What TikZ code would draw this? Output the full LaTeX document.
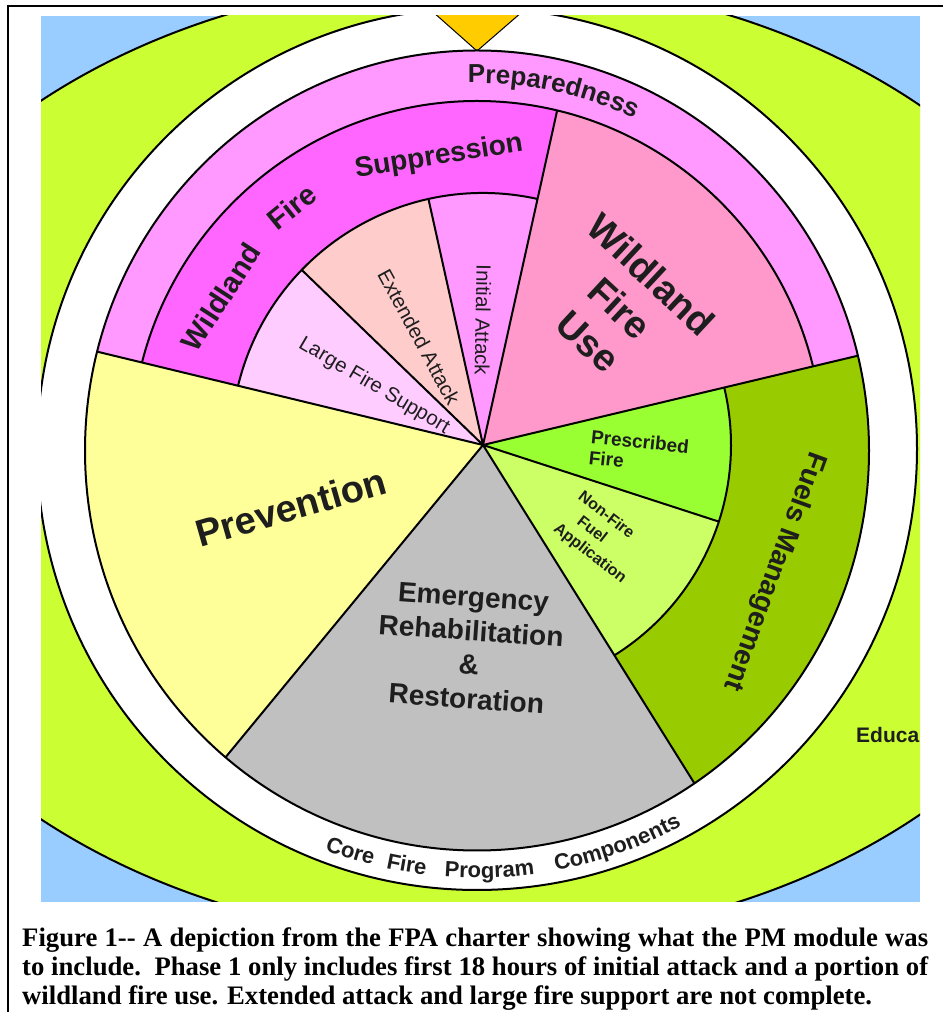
\documentclass[tikz,border=0pt]{standalone}
\usepackage{fontspec}
\setmainfont{Liberation Sans}
\newfontfamily\capfont{Liberation Serif}
\usetikzlibrary{calc,decorations.text}
\definecolor{cblue}{HTML}{99CCFF}
\definecolor{cgreen}{HTML}{CCFF33}
\definecolor{cprep}{HTML}{FF99FF}
\definecolor{csupp}{HTML}{FF66FF}
\definecolor{clfs}{HTML}{FFCCFF}
\definecolor{cea}{HTML}{FFCCCC}
\definecolor{cia}{HTML}{FF99FF}
\definecolor{cwfu}{HTML}{FF99CC}
\definecolor{crx}{HTML}{99FF33}
\definecolor{cnf}{HTML}{CCFF66}
\definecolor{cfuel}{HTML}{99CC00}
\definecolor{cgray}{HTML}{C0C0C0}
\definecolor{cprev}{HTML}{FFFF99}
\definecolor{ctri}{HTML}{FFCC00}
\definecolor{ctext}{HTML}{1E1E1E}
\newcommand\fsz[2]{\fontsize{#1}{#2}\selectfont}
\begin{document}
\begin{tikzpicture}[x=1pt,y=1pt,
  outline/.style={draw=black,line width=2pt},
  lbl/.style={text=ctext,inner sep=0pt,font=#1},
  caplbl/.style={text=black,inner sep=0pt,anchor=base west,font=\capfont\bfseries\fsz{26.7}{28.5}},
  arctext/.style={decorate,decoration={text along path,text align=center,text={#1}}}
]
\useasboundingbox (0,0) rectangle (943,1012);
\fill[white] (0,0) rectangle (943,1012);
\draw[line width=2pt] (943,1006) -- (8,1006) -- (8,0);
\coordinate (C) at (483,567);
\coordinate (E) at (477,562);
\coordinate (D) at (477,561.5);
\begin{scope}
\clip (41,110) rectangle (920,996);
\fill[cblue] (41,110) rectangle (920,996);
\filldraw[fill=cgreen,outline] (477,552) ellipse [x radius=654,y radius=482];
\filldraw[fill=white,outline] (477,563) ellipse [x radius=440,y radius=441];
\filldraw[fill=ctri,draw=black,line width=1pt] (433,1000) -- (522,1000) -- (477,961) -- cycle;
% main sectors
\begin{scope}
\clip (D) ellipse [x radius=392,y radius=400];
\fill[cprep] (C) -- ($(C)+(13.4:900)$) arc[start angle=13.4,end angle=166.4,radius=900] -- cycle;
\fill[cfuel] (C) -- ($(C)+(-58:900)$) arc[start angle=-58,end angle=13.4,radius=900] -- cycle;
\fill[cgray] (C) -- ($(C)+(-129.5:900)$) arc[start angle=-129.5,end angle=-58,radius=900] -- cycle;
\fill[cprev] (C) -- ($(C)+(166.4:900)$) arc[start angle=166.4,end angle=230.5,radius=900] -- cycle;
\end{scope}
\begin{scope}
\clip (E) ellipse [x radius=346,y radius=349];
\fill[csupp] (C) -- ($(C)+(77.5:900)$) arc[start angle=77.5,end angle=166.4,radius=900] -- cycle;
\fill[cwfu] (C) -- ($(C)+(13.4:900)$) arc[start angle=13.4,end angle=77.5,radius=900] -- cycle;
\end{scope}
\fill[clfs] (C) -- ($(C)+(136:252)$) arc[start angle=136,end angle=166.4,radius=252] -- cycle;
\fill[cea] (C) -- ($(C)+(102.5:252)$) arc[start angle=102.5,end angle=136,radius=252] -- cycle;
\fill[cia] (C) -- ($(C)+(77.5:252)$) arc[start angle=77.5,end angle=102.5,radius=252] -- cycle;
\fill[crx] (C) -- ($(C)+(-18:248)$) arc[start angle=-18,end angle=13.4,radius=248] -- cycle;
\fill[cnf] (C) -- ($(C)+(-58:248)$) arc[start angle=-58,end angle=-18,radius=248] -- cycle;
% outlines
\draw[outline] ($(C)+(77.5:252)$) arc[start angle=77.5,end angle=166.4,radius=252];
\draw[outline] ($(C)+(-58:248)$) arc[start angle=-58,end angle=13.4,radius=248];
\draw[outline] (C) -- ($(C)+(136:252)$);
\draw[outline] (C) -- ($(C)+(102.5:252)$);
\draw[outline] (C) -- ($(C)+(-18:248)$);
\begin{scope}
\clip (E) ellipse [x radius=346,y radius=349];
\draw[outline] (C) -- ($(C)+(77.5:400)$);
\end{scope}
\begin{scope}
\clip (C) -- ($(C)+(13.4:900)$) arc[start angle=13.4,end angle=166.4,radius=900] -- cycle;
\draw[outline] (E) ellipse [x radius=346,y radius=349];
\end{scope}
\begin{scope}
\clip (D) ellipse [x radius=392,y radius=400];
\draw[outline] (C) -- ($(C)+(166.4:500)$);
\draw[outline] (C) -- ($(C)+(13.4:500)$);
\draw[outline] (C) -- ($(C)+(-58:500)$);
\draw[outline] (C) -- ($(C)+(-129.5:500)$);
\end{scope}
\draw[outline] (D) ellipse [x radius=392,y radius=400];
% curved texts
\path[arctext={|\bfseries\fsz{26}{26}\color{ctext}|Preparedness}]
  ($(E)+(100:367)$) arc[start angle=100,end angle=56,radius=367];
\path[arctext={|\bfseries\fsz{22}{22}\color{ctext}|Core}]
  ($(E)+(-122.5:428)$) arc[start angle=-122.5,end angle=-92.5,radius=428];
\path[arctext={|\bfseries\fsz{22}{22}\color{ctext}|Fire}]
  ($(E)+(-114.6:428)$) arc[start angle=-114.6,end angle=-84.6,radius=428];
\path[arctext={|\bfseries\fsz{22}{22}\color{ctext}|Program}]
  ($(E)+(-103.3:428)$) arc[start angle=-103.3,end angle=-73.3,radius=428];
\path[arctext={|\bfseries\fsz{22}{22}\color{ctext}|Components}]
  ($(E)+(-85.4:428)$) arc[start angle=-85.4,end angle=-55.4,radius=428];
% labels
\node[lbl={\bfseries\fsz{29}{29}},rotate=57] (wl) at (221,715) {Wildland};
\node[lbl={\bfseries\fsz{29}{29}},rotate=39] (wf) at (292,805) {Fire};
\node[lbl={\bfseries\fsz{28}{28}},rotate=9] (ws) at (439,855) {Suppression};
\node[lbl={\fsz{20.5}{20.5}},rotate=-30.5] (lfs) at (374,626) {Large Fire Support};
\node[lbl={\fsz{20.5}{20.5}},rotate=-61.5] (ea) at (419,675) {Extended Attack};
\node[lbl={\fsz{20.5}{20.5}},rotate=-91] (ia) at (483,692) {Initial Attack};
\node[lbl={\bfseries\fsz{38}{46}},rotate=-43,align=center] (wfu) at (620,704) {Wildland\\Fire\\Use};
\node[lbl={\bfseries\fsz{19}{21}},rotate=-6,align=left] (rx) at (639,560) {Prescribed\\Fire};
\node[lbl={\bfseries\fsz{16}{20}},rotate=-38,align=left] (nf) at (602,474) {Non-Fire\\\hspace*{14pt}Fuel\\Application};
\node[lbl={\bfseries\fsz{28}{28}},rotate=-110] (fm) at (774,441) {Fuels Management};
\node[lbl={\bfseries\fsz{38}{38}},rotate=16] (prev) at (291,505) {Prevention};
\node[lbl={\bfseries\fsz{28}{34}},rotate=-4,align=center] (err) at (470,364) {Emergency\\Rehabilitation\\\&\\Restoration};
\node[lbl={\bfseries\fsz{21}{21}},anchor=west] (edu) at (856,277) {Educa};
\end{scope}
% caption
\node[caplbl] (cap1) at (22,65) {\makebox[906pt][s]{Figure 1-{}- A depiction from the FPA charter showing what the PM module was}};
\node[caplbl] (cap2) at (22,36.5) {\makebox[906pt][s]{to include.\ \ Phase 1 only includes first 18 hours of initial attack and a portion of}};
\node[caplbl] (cap3) at (22,8) {wildland fire use. Extended attack and large fire support are not complete.};
\end{tikzpicture}
\end{document}
